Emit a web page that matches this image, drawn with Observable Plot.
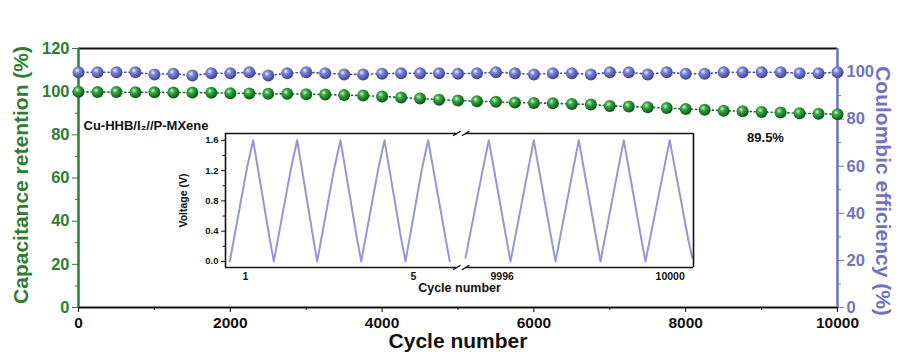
<!DOCTYPE html>
<html><head><meta charset="utf-8">
<script src="https://cdn.jsdelivr.net/npm/d3@7"></script>
<script src="https://cdn.jsdelivr.net/npm/@observablehq/plot@0.6"></script>
<style>
body{margin:0;background:#fff;}
#wrap{position:relative;width:899px;height:358px;}
#wrap svg{position:absolute;overflow:visible;max-width:none!important;}
</style></head><body><div id="wrap"></div>
<script>
// ---- main chart data ----
const cycles = [0,250,500,750,1000,1250,1500,1750,2000,2250,2500,2750,3000,3250,3500,3750,4000,4250,4500,4750,5000,5250,5500,5750,6000,6250,6500,6750,7000,7250,7500,7750,8000,8250,8500,8750,9000,9250,9500,9750,10000];
const retention = [100,99.8,99.8,99.7,99.7,99.6,99.6,99.5,99.3,99.2,99.0,99.0,98.8,98.7,98.4,98.2,97.8,97.3,96.8,96.3,95.9,95.6,95.3,95.0,94.8,94.6,94.3,94.1,93.4,93.1,92.8,92.4,92.0,91.6,91.2,90.9,90.6,90.3,90.0,89.8,89.5];
const coulombic = [99.9,99.9,99.9,99.9,99.0,99.3,98.5,99.5,99.5,99.9,98.5,99.5,99.9,99.5,99.0,99.0,99.3,99.5,99.5,99.5,99.3,99.5,99.9,99.5,99.0,99.5,99.5,99.0,99.9,99.9,99.0,99.9,99.3,99.3,99.9,99.9,99.9,99.9,99.5,99.5,99.9];
const cycleTicks = [0,2000,4000,6000,8000,10000];
const cycleMinor = [1000,3000,5000,7000,9000];
const retentionTicks = [0,20,40,60,80,100,120];
const retentionMinor = [10,30,50,70,90,110];
const ceTicks = [0,20,40,60,80,100];
const ceMinor = [10,30,50,70,90];
const retentionMax = 120, ceMax = 110;
const sampleLabel = "Cu-HHB/I\u2082//P-MXene";
const finalLabel = "89.5%";

// ---- inset data (voltage vs cycle) ----
const insetLeftCycle = [0.626,1.03,1.183,1.57,1.674,2.08,2.231,2.61,2.707,3.11,3.262,3.65,3.755,4.16,4.310,4.70,4.810,5.20,5.350,5.76,5.864];
const insetLeftVolt  = [0.0,1.22,1.6,0.32,0.0,1.22,1.6,0.32,0.0,1.22,1.6,0.32,0.0,1.22,1.6,0.32,0.0,1.22,1.6,0.32,0.0];
const insetRightCycle = [9995.126,9995.54,9995.681,9996.095,9996.198,9996.62,9996.752,9997.165,9997.269,9997.69,9997.824,9998.235,9998.340,9998.76,9998.895,9999.305,9999.412,9999.85,9999.990,10000.42,10000.524];
const insetRightVolt  = [0.05,1.22,1.6,0.32,0.0,1.22,1.6,0.32,0.0,1.22,1.6,0.32,0.0,1.22,1.6,0.32,0.0,1.22,1.6,0.32,0.05];
const insetCycleTicks = [1,5,9996,10000];
const insetVoltTicks = [0,0.4,0.8,1.2,1.6];
const insetVoltMinor = [0.2,0.6,1.0,1.4];
const insetBreakGap = 9988.888;   // axis break: cycles 6..9995 omitted
const insetXDomain = [0.524, 10000.555];
const insetYDomain = [-0.08, 1.69];
const insetBreak = [6.03, 9995.13]; // axis break edges (cycle)

const GREEN = "#2f7d34", BLUE = "#7074bf", INK = "#111", LAV = "#9797d3";
const FONT = "'Liberation Sans', Arial, Helvetica, sans-serif";
const noLabel = () => "";

const main = cycles.map((c,i)=>({c, r: retention[i], ce: coulombic[i]}));
const ceToLeft = v => v * retentionMax / ceMax;

const mainPlot = Plot.plot({
  width: 899, height: 358,
  marginLeft: 78, marginRight: 62, marginTop: 48, marginBottom: 51,
  x: {domain: [0, 10000], label: null},
  y: {domain: [0, retentionMax], label: null},
  style: {fontFamily: FONT, fontWeight: "bold", fontSize: "15px", background: "transparent", color: INK},
  marks: [
    Plot.ruleY([retentionMax], {stroke: INK, strokeWidth: 2}),
    Plot.ruleY([0], {stroke: INK, strokeWidth: 2}),
    Plot.axisX({ticks: cycleTicks, tickFormat: d => String(d), tickSize: 5, tickPadding: 4, fontSize: 15.5, fontWeight: "bold", color: INK, label: null}),
    Plot.axisX({ticks: cycleMinor, tickSize: 3, tickFormat: noLabel, color: INK, label: null}),
    Plot.axisY({anchor: "left", ticks: retentionTicks, tickSize: 6, tickPadding: 3, fontSize: 16.5, fontWeight: "bold", color: GREEN, label: null}),
    Plot.axisY({anchor: "left", ticks: retentionMinor, tickSize: 3, tickFormat: noLabel, color: GREEN, label: null}),
    Plot.axisY({anchor: "right", ticks: ceTicks.map(ceToLeft), tickFormat: d => String(Math.round(d * ceMax / retentionMax)), tickSize: 6, tickPadding: 3, fontSize: 16.5, fontWeight: "bold", color: BLUE, label: null}),
    Plot.axisY({anchor: "right", ticks: ceMinor.map(ceToLeft), tickSize: 3, tickFormat: noLabel, color: BLUE, label: null}),
    Plot.ruleX([0], {stroke: GREEN, strokeWidth: 2.5}),
    Plot.ruleX([10000], {stroke: BLUE, strokeWidth: 2.5}),
    Plot.line(main, {x: "c", y: d => ceToLeft(d.ce), stroke: "#4a50a8", strokeWidth: 1.6, strokeDasharray: "1.2,3"}),
    Plot.line(main, {x: "c", y: "r", stroke: "#1d6b26", strokeWidth: 1.6, strokeDasharray: "1.2,3"}),
    Plot.dot(main, {x: "c", y: d => ceToLeft(d.ce), r: 6, fill: "url(#gBlue)", stroke: "none"}),
    Plot.dot(main, {x: "c", y: "r", r: 6, fill: "url(#gGreen)", stroke: "none"}),
    Plot.text([sampleLabel], {frameAnchor: "top-left", textAnchor: "start", dx: 5, dy: 72, fontSize: 13, fontWeight: "bold", fill: INK}),
    Plot.text([main[main.length-1]], {x: "c", y: "r", text: () => finalLabel, dx: -72, dy: 23, fontSize: 13, fontWeight: "bold", fill: INK}),
    Plot.text(["Capacitance retention (%)"], {frameAnchor: "left", textAnchor: "middle", rotate: -90, dx: -57, dy: -3, fontSize: 21, fontWeight: "bold", fill: GREEN}),
    Plot.text(["Coulombic efficiency (%)"], {frameAnchor: "right", textAnchor: "middle", rotate: 90, dx: 45, dy: 13, fontSize: 21, fontWeight: "bold", fill: BLUE}),
    Plot.text(["Cycle number"], {frameAnchor: "bottom", dy: 40, fontSize: 21, fontWeight: "bold", fill: INK})
  ]
});
d3.select(mainPlot).insert("defs", ":first-child").html(`
  <radialGradient id="gGreen" cx="38%" cy="35%" r="65%">
    <stop offset="0%" stop-color="#c9f5c2"/>
    <stop offset="35%" stop-color="#35a844"/>
    <stop offset="100%" stop-color="#0b5416"/>
  </radialGradient>
  <radialGradient id="gBlue" cx="38%" cy="35%" r="65%">
    <stop offset="0%" stop-color="#eef0ff"/>
    <stop offset="35%" stop-color="#7c84d6"/>
    <stop offset="100%" stop-color="#3d4392"/>
  </radialGradient>`);
mainPlot.style.left = "0px"; mainPlot.style.top = "0px";
document.getElementById("wrap").appendChild(mainPlot);

// ---- inset ----
const insetU = c => c > 100 ? c - insetBreakGap : c;
const leftSeg = insetLeftCycle.map((c,i)=>({c, v: insetLeftVolt[i]}));
const rightSeg = insetRightCycle.map((c,i)=>({c, v: insetRightVolt[i]}));
const [yb, yt] = insetYDomain;
const ul = insetU(insetXDomain[0]), ur = insetU(insetXDomain[1]);
const bl = insetU(insetBreak[0]), br = insetU(insetBreak[1]);
const frameSegs = [
  {x1: ul, x2: bl, y: yt}, {x1: br, x2: ur, y: yt},
  {x1: ul, x2: bl, y: yb}, {x1: br, x2: ur, y: yb}
];
const slashes = [];
for (const y of [yt, yb]) for (const u of [bl, br]) slashes.push({u, y});

const insetPlot = Plot.plot({
  width: 540, height: 180,
  marginLeft: 55, marginRight: 17, marginTop: 8, marginBottom: 38,
  x: {domain: [ul, ur], label: null},
  y: {domain: insetYDomain, label: null},
  style: {fontFamily: FONT, fontWeight: "bold", fontSize: "9px", background: "transparent", color: INK},
  marks: [
    Plot.line(leftSeg, {x: d => insetU(d.c), y: "v", stroke: LAV, strokeWidth: 2}),
    Plot.line(rightSeg, {x: d => insetU(d.c), y: "v", stroke: LAV, strokeWidth: 2}),
    Plot.ruleY(frameSegs, {y: "y", x1: "x1", x2: "x2", stroke: INK, strokeWidth: 1.6}),
    Plot.ruleX([ul, ur], {y1: yb, y2: yt, stroke: INK, strokeWidth: 1.6}),
    Plot.link(slashes, {x1: d => d.u - 0.09, x2: d => d.u + 0.09, y1: d => d.y - 0.03, y2: d => d.y + 0.03, stroke: INK, strokeWidth: 1.4}),
    Plot.axisY({ticks: insetVoltTicks, tickFormat: d3.format(".1f"), tickSize: 4, tickPadding: 3, fontSize: 9.5, fontWeight: "bold", label: null}),
    Plot.axisY({ticks: insetVoltMinor, tickSize: 2.5, tickFormat: noLabel, label: null}),
    Plot.axisX({ticks: insetCycleTicks.map(insetU), tickFormat: d => String(Math.round(d > 6.5 ? d + insetBreakGap : d)), tickSize: 0, tickPadding: 5, fontSize: 10.5, fontWeight: "bold", label: null}),
    Plot.text(["Voltage (V)"], {frameAnchor: "left", textAnchor: "middle", rotate: -90, dx: -42, fontSize: 10.5, fontWeight: "bold", fill: INK}),
    Plot.text(["Cycle number"], {frameAnchor: "bottom", dy: 24, fontSize: 12.5, fontWeight: "bold", fill: INK})
  ]
});
insetPlot.style.left = "170px"; insetPlot.style.top = "125px";
document.getElementById("wrap").appendChild(insetPlot);
</script>
</body></html>
